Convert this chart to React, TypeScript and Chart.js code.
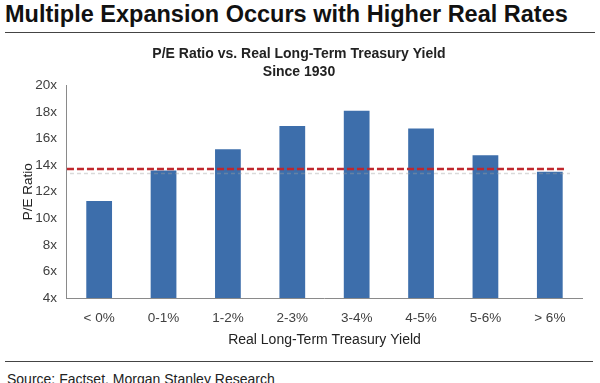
import React, { useEffect, useRef } from "react";
import { Chart, registerables } from "chart.js";

Chart.register(...registerables);

const mainTitle = "Multiple Expansion Occurs with Higher Real Rates";
const chartTitle = ["P/E Ratio vs. Real Long-Term Treasury Yield", "Since 1930"];
const sourceNote = "Source: Factset, Morgan Stanley Research";

const categories = ["< 0%", "0-1%", "1-2%", "2-3%", "3-4%", "4-5%", "5-6%", "> 6%"];
const peRatios = [11.3, 13.6, 15.2, 16.95, 18.1, 16.75, 14.75, 13.5];
const averagePE = 13.7;
const yTickValues = [4, 6, 8, 10, 12, 14, 16, 18, 20];
const yTickLabels = ["4x", "6x", "8x", "10x", "12x", "14x", "16x", "18x", "20x"];

const FONT = "'Liberation Sans', Arial, Helvetica, sans-serif";

const averageLinePlugin = {
  id: "averageLine",
  afterDatasetsDraw(chart: any) {
    const { ctx, chartArea, scales } = chart;
    const y = scales.y.getPixelForValue(averagePE);
    const left = chartArea.left;
    const right = chartArea.right;
    ctx.save();
    // faint grey shadow line
    ctx.beginPath();
    ctx.setLineDash([4, 3]);
    ctx.lineWidth = 1.5;
    ctx.strokeStyle = "rgba(160,160,160,0.4)";
    ctx.moveTo(left + 3, y + 4.5);
    ctx.lineTo(right - 12, y + 4.5);
    ctx.stroke();
    // red dashed average line
    ctx.beginPath();
    ctx.setLineDash([7, 3]);
    ctx.lineWidth = 2.5;
    ctx.strokeStyle = "#C0282D";
    ctx.moveTo(left, y);
    ctx.lineTo(right - 16, y);
    ctx.stroke();
    ctx.restore();
  },
};

export default function App() {
  const canvasRef = useRef<HTMLCanvasElement | null>(null);

  useEffect(() => {
    if (!canvasRef.current) return;
    const chart = new Chart(canvasRef.current, {
      type: "bar",
      data: {
        labels: categories,
        datasets: [
          {
            data: peRatios,
            backgroundColor: "#3D6EAB",
            borderWidth: 0,
            barPercentage: 0.4,
            categoryPercentage: 1.0,
          },
        ],
      },
      options: {
        responsive: false,
        animation: false,
        devicePixelRatio: 1,
        layout: { padding: { left: 16, right: 18, top: 0, bottom: 7 } },
        plugins: {
          legend: { display: false },
          tooltip: { enabled: false },
          title: {
            display: true,
            text: chartTitle,
            color: "#222",
            font: { family: FONT, size: 14, weight: "bold", lineHeight: 1.3 },
            padding: { top: 9, bottom: 4 },
          },
        },
        scales: {
          x: {
            grid: { display: false, drawTicks: false },
            border: { display: true, color: "#8a8a8a", width: 1 },
            ticks: {
              color: "#404040",
              font: { family: FONT, size: 13.5 },
              padding: 12,
              maxRotation: 0,
            },
            title: {
              display: true,
              text: "Real Long-Term Treasury Yield",
              color: "#222",
              font: { family: FONT, size: 14 },
              padding: { top: -6, bottom: 0 },
            },
          },
          y: {
            min: 4,
            max: 20,
            afterBuildTicks: (scale: any) => {
              scale.ticks = yTickValues.map((v) => ({ value: v }));
            },
            grid: { display: false, drawTicks: false },
            border: { display: true, color: "#8a8a8a", width: 1 },
            ticks: {
              color: "#404040",
              font: { family: FONT, size: 13.5 },
              padding: 10,
              callback: (value: any) => {
                const i = yTickValues.indexOf(Number(value));
                return i >= 0 ? yTickLabels[i] : "";
              },
            },
            title: {
              display: true,
              text: "P/E Ratio",
              color: "#222",
              font: { family: FONT, size: 13.5 },
              padding: { top: 4, bottom: -11 },
            },
          },
        },
      },
      plugins: [averageLinePlugin],
    });
    return () => chart.destroy();
  }, []);

  return (
    <div
      style={{
        position: "absolute",
        left: 0,
        top: 0,
        width: 600,
        height: 383,
        overflow: "hidden",
        background: "#fff",
        fontFamily: FONT,
      }}
    >
      <div
        style={{
          position: "absolute",
          left: 5,
          top: 0,
          fontSize: 23.5,
          lineHeight: "28px",
          fontWeight: "bold",
          color: "#111",
          whiteSpace: "nowrap",
        }}
      >
        {mainTitle}
      </div>
      <div
        style={{
          position: "absolute",
          left: 5,
          top: 32,
          width: 590,
          height: 1,
          background: "#444",
        }}
      />
      <div style={{ position: "absolute", left: 0, top: 36, width: 600, height: 320 }}>
        <canvas ref={canvasRef} width={600} height={320} style={{ display: "block" }} />
      </div>
      <div
        style={{
          position: "absolute",
          left: 5,
          top: 361,
          width: 588,
          height: 1,
          background: "#444",
        }}
      />
      <div
        style={{
          position: "absolute",
          left: 7,
          top: 371,
          fontSize: 14,
          lineHeight: "16px",
          color: "#222",
          whiteSpace: "nowrap",
        }}
      >
        {sourceNote}
      </div>
    </div>
  );
}
